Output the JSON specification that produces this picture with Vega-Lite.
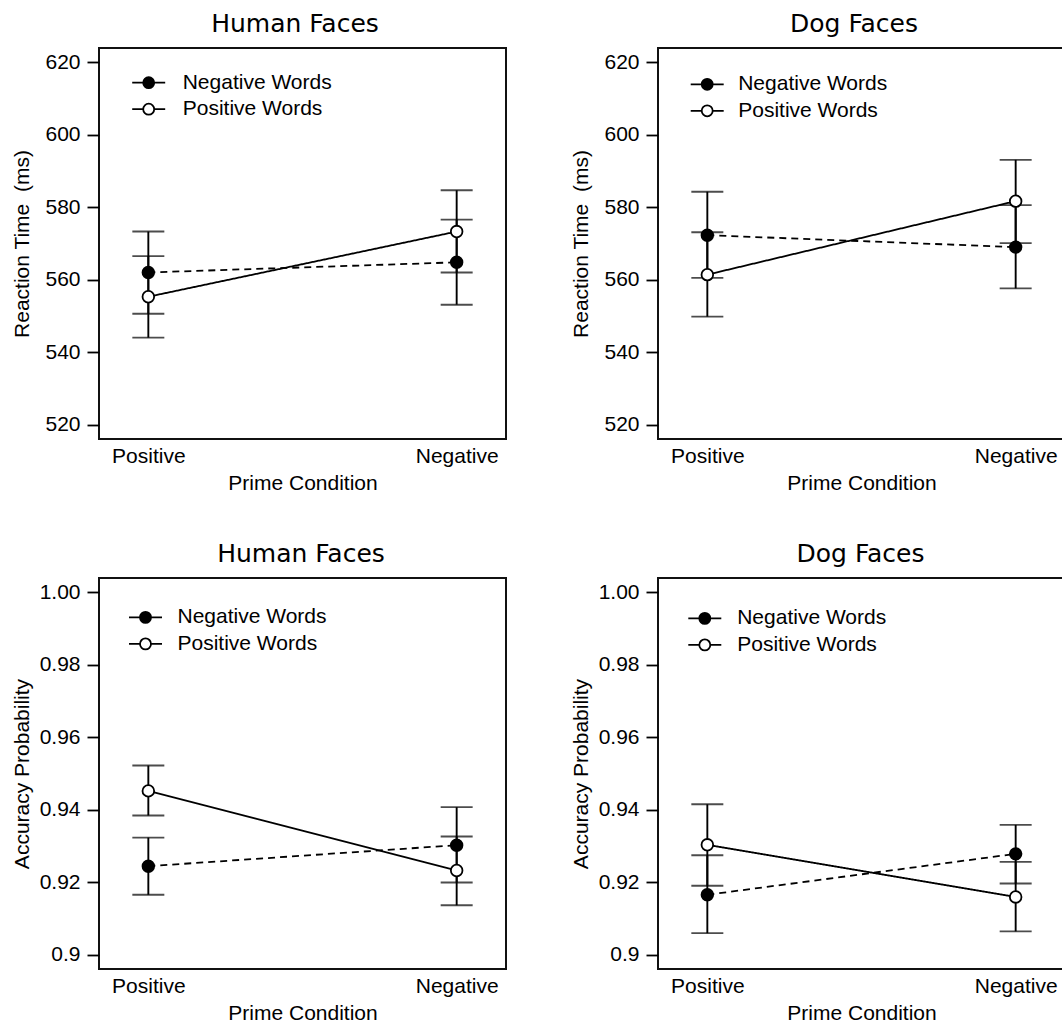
{
  "$schema": "https://vega.github.io/schema/vega-lite/v6.json",
  "padding": {"left": 10, "top": 10, "right": 0, "bottom": 0},
  "background": "white",
  "config": {
    "font": "Liberation Sans",
    "view": {"stroke": "#111111", "strokeWidth": 2},
    "title": {"font": "DejaVu Sans", "fontSize": 25, "fontWeight": "normal", "color": "black", "baseline": "alphabetic", "offset": 11.5, "frame": "group", "anchor": "middle"},
    "axis": {"labelFont": "Liberation Sans", "labelFontSize": 21, "labelColor": "black", "titleFont": "Liberation Sans", "titleFontSize": 21, "titleFontWeight": "normal", "titleColor": "black", "grid": false, "domain": false, "tickColor": "black", "tickWidth": 1.8},
    "axisY": {"tickSize": 12, "labelPadding": 7, "titleX": -71, "titleY": 195.5, "titleBaseline": "alphabetic", "titleAngle": 270},
    "axisX": {"ticks": false, "tickSize": 0, "labelPadding": 6, "titlePadding": 6, "labelAngle": 0},
    "legend": {"labelFont": "Liberation Sans", "labelFontSize": 21, "labelColor": "black", "padding": 0, "rowPadding": 4.5, "symbolSize": 484, "symbolStrokeColor": "black", "symbolStrokeWidth": 1.8, "labelLimit": 400}
  },
  "datasets": {
    "rt": [
      {"face": "Human Faces", "prime": "Positive", "series": "Negative Words", "mean": 562.0, "lo": 550.6, "hi": 573.3},
      {"face": "Human Faces", "prime": "Positive", "series": "Positive Words", "mean": 555.3, "lo": 544.0, "hi": 566.5},
      {"face": "Human Faces", "prime": "Negative", "series": "Negative Words", "mean": 564.8, "lo": 553.1, "hi": 576.6},
      {"face": "Human Faces", "prime": "Negative", "series": "Positive Words", "mean": 573.3, "lo": 562.0, "hi": 584.7},
      {"face": "Dog Faces", "prime": "Positive", "series": "Negative Words", "mean": 572.3, "lo": 560.5, "hi": 584.3},
      {"face": "Dog Faces", "prime": "Positive", "series": "Positive Words", "mean": 561.4, "lo": 549.8, "hi": 573.1},
      {"face": "Dog Faces", "prime": "Negative", "series": "Negative Words", "mean": 569.0, "lo": 557.6, "hi": 580.6},
      {"face": "Dog Faces", "prime": "Negative", "series": "Positive Words", "mean": 581.7, "lo": 570.1, "hi": 593.1}
    ],
    "acc": [
      {"face": "Human Faces", "prime": "Positive", "series": "Negative Words", "mean": 0.9244, "lo": 0.9165, "hi": 0.9323},
      {"face": "Human Faces", "prime": "Positive", "series": "Positive Words", "mean": 0.9452, "lo": 0.9384, "hi": 0.9522},
      {"face": "Human Faces", "prime": "Negative", "series": "Negative Words", "mean": 0.9302, "lo": 0.9199, "hi": 0.9407},
      {"face": "Human Faces", "prime": "Negative", "series": "Positive Words", "mean": 0.9232, "lo": 0.9136, "hi": 0.9326},
      {"face": "Dog Faces", "prime": "Positive", "series": "Negative Words", "mean": 0.9165, "lo": 0.9059, "hi": 0.9274},
      {"face": "Dog Faces", "prime": "Positive", "series": "Positive Words", "mean": 0.9303, "lo": 0.9190, "hi": 0.9415},
      {"face": "Dog Faces", "prime": "Negative", "series": "Negative Words", "mean": 0.9278, "lo": 0.9196, "hi": 0.9358},
      {"face": "Dog Faces", "prime": "Negative", "series": "Positive Words", "mean": 0.9159, "lo": 0.9064, "hi": 0.9256}
    ]
  },
  "columns": 2,
  "spacing": {"row": 139, "column": 152},
  "bounds": "flush",
  "resolve": {
    "scale": {"x": "independent", "y": "independent", "fill": "independent"},
    "axis": {"x": "independent", "y": "independent"},
    "legend": {"fill": "independent"}
  },
  "concat": [
    {
      "width": 407, "height": 391,
      "title": {"text": "Human Faces", "dx": -7.5},
      "data": {"name": "rt"},
      "transform": [{"filter": {"field": "face", "equal": "Human Faces"}}],
      "encoding": {
        "x": {"field": "prime", "type": "nominal", "scale": {"type": "point", "domain": ["Positive", "Negative"], "padding": 0.16}, "axis": {"title": "Prime Condition"}}
      },
      "layer": [
        {"mark": {"type": "rule", "color": "black", "strokeWidth": 1.9},
         "encoding": {"y": {"field": "lo", "type": "quantitative", "title": "Reaction Time\u00a0 (ms)", "scale": {"domain": [516, 624], "nice": false, "zero": false}, "axis": {"values": [520, 540, 560, 580, 600, 620]}}, "y2": {"field": "hi"}}},
        {"mark": {"type": "tick", "orient": "horizontal", "color": "black", "size": 32, "thickness": 1.9},
         "encoding": {"y": {"field": "lo", "type": "quantitative", "title": "Reaction Time\u00a0 (ms)"}}},
        {"mark": {"type": "tick", "orient": "horizontal", "color": "black", "size": 32, "thickness": 1.9},
         "encoding": {"y": {"field": "hi", "type": "quantitative", "title": "Reaction Time\u00a0 (ms)"}}},
        {"mark": {"type": "line", "color": "black", "strokeWidth": 1.8},
         "encoding": {"y": {"field": "mean", "type": "quantitative", "title": "Reaction Time\u00a0 (ms)"}, "detail": {"field": "series"}, "strokeDash": {"condition": {"test": "datum.series === 'Negative Words'", "value": [7, 5]}, "value": [1, 0]}}},
        {"mark": {"type": "point", "shape": "circle", "filled": true, "size": 135, "stroke": "black", "strokeWidth": 1.8, "opacity": 1},
         "encoding": {"y": {"field": "mean", "type": "quantitative", "title": "Reaction Time\u00a0 (ms)"},
           "fill": {"field": "series", "type": "nominal", "scale": {"domain": ["Negative Words", "Positive Words"], "range": ["black", "white"]},
             "legend": {"title": null, "orient": "none", "legendX": 37.7, "legendY": 22.7, "labelOffset": 22, "symbolType": "M-1.5,0H-0.5M0.5,0H1.5M0.5,0A0.5,0.5,0,1,1,-0.5,0A0.5,0.5,0,1,1,0.5,0Z",
               "encode": {"symbols": {"update": {"stroke": {"value": "black"}, "strokeWidth": {"value": 1.8}, "opacity": {"value": 1}, "strokeDash": {"signal": "datum.value === 'Negative Words' ? [6, 6] : [1, 0]"}}}}}}}}
      ]
    },
    {
      "width": 407, "height": 391,
      "title": {"text": "Dog Faces", "dx": -7.5},
      "data": {"name": "rt"},
      "transform": [{"filter": {"field": "face", "equal": "Dog Faces"}}],
      "encoding": {
        "x": {"field": "prime", "type": "nominal", "scale": {"type": "point", "domain": ["Positive", "Negative"], "padding": 0.16}, "axis": {"title": "Prime Condition"}}
      },
      "layer": [
        {"mark": {"type": "rule", "color": "black", "strokeWidth": 1.9},
         "encoding": {"y": {"field": "lo", "type": "quantitative", "title": "Reaction Time\u00a0 (ms)", "scale": {"domain": [516, 624], "nice": false, "zero": false}, "axis": {"values": [520, 540, 560, 580, 600, 620]}}, "y2": {"field": "hi"}}},
        {"mark": {"type": "tick", "orient": "horizontal", "color": "black", "size": 32, "thickness": 1.9},
         "encoding": {"y": {"field": "lo", "type": "quantitative", "title": "Reaction Time\u00a0 (ms)"}}},
        {"mark": {"type": "tick", "orient": "horizontal", "color": "black", "size": 32, "thickness": 1.9},
         "encoding": {"y": {"field": "hi", "type": "quantitative", "title": "Reaction Time\u00a0 (ms)"}}},
        {"mark": {"type": "line", "color": "black", "strokeWidth": 1.8},
         "encoding": {"y": {"field": "mean", "type": "quantitative", "title": "Reaction Time\u00a0 (ms)"}, "detail": {"field": "series"}, "strokeDash": {"condition": {"test": "datum.series === 'Negative Words'", "value": [7, 5]}, "value": [1, 0]}}},
        {"mark": {"type": "point", "shape": "circle", "filled": true, "size": 135, "stroke": "black", "strokeWidth": 1.8, "opacity": 1},
         "encoding": {"y": {"field": "mean", "type": "quantitative", "title": "Reaction Time\u00a0 (ms)"},
           "fill": {"field": "series", "type": "nominal", "scale": {"domain": ["Negative Words", "Positive Words"], "range": ["black", "white"]},
             "legend": {"title": null, "orient": "none", "legendX": 37.2, "legendY": 24.3, "labelOffset": 19, "symbolType": "M-1.5,0H-0.5M0.5,0H1.5M0.5,0A0.5,0.5,0,1,1,-0.5,0A0.5,0.5,0,1,1,0.5,0Z",
               "encode": {"symbols": {"update": {"stroke": {"value": "black"}, "strokeWidth": {"value": 1.8}, "opacity": {"value": 1}, "strokeDash": {"signal": "datum.value === 'Negative Words' ? [6, 6] : [1, 0]"}}}}}}}}
      ]
    },
    {
      "width": 407, "height": 391,
      "title": {"text": "Human Faces", "dx": -1.5},
      "data": {"name": "acc"},
      "transform": [{"filter": {"field": "face", "equal": "Human Faces"}}],
      "encoding": {
        "x": {"field": "prime", "type": "nominal", "scale": {"type": "point", "domain": ["Positive", "Negative"], "padding": 0.16}, "axis": {"title": "Prime Condition"}}
      },
      "layer": [
        {"mark": {"type": "rule", "color": "black", "strokeWidth": 1.9},
         "encoding": {"y": {"field": "lo", "type": "quantitative", "title": "Accuracy Probability", "scale": {"domain": [0.896, 1.004], "nice": false, "zero": false}, "axis": {"values": [0.9, 0.92, 0.94, 0.96, 0.98, 1.0], "labelExpr": "datum.value < 0.91 ? '0.9' : format(datum.value, '.2f')"}}, "y2": {"field": "hi"}}},
        {"mark": {"type": "tick", "orient": "horizontal", "color": "black", "size": 32, "thickness": 1.9},
         "encoding": {"y": {"field": "lo", "type": "quantitative", "title": "Accuracy Probability"}}},
        {"mark": {"type": "tick", "orient": "horizontal", "color": "black", "size": 32, "thickness": 1.9},
         "encoding": {"y": {"field": "hi", "type": "quantitative", "title": "Accuracy Probability"}}},
        {"mark": {"type": "line", "color": "black", "strokeWidth": 1.8},
         "encoding": {"y": {"field": "mean", "type": "quantitative", "title": "Accuracy Probability"}, "detail": {"field": "series"}, "strokeDash": {"condition": {"test": "datum.series === 'Negative Words'", "value": [7, 5]}, "value": [1, 0]}}},
        {"mark": {"type": "point", "shape": "circle", "filled": true, "size": 135, "stroke": "black", "strokeWidth": 1.8, "opacity": 1},
         "encoding": {"y": {"field": "mean", "type": "quantitative", "title": "Accuracy Probability"},
           "fill": {"field": "series", "type": "nominal", "scale": {"domain": ["Negative Words", "Positive Words"], "range": ["black", "white"]},
             "legend": {"title": null, "orient": "none", "legendX": 34.5, "legendY": 27.4, "labelOffset": 20, "symbolType": "M-1.5,0H-0.5M0.5,0H1.5M0.5,0A0.5,0.5,0,1,1,-0.5,0A0.5,0.5,0,1,1,0.5,0Z",
               "encode": {"symbols": {"update": {"stroke": {"value": "black"}, "strokeWidth": {"value": 1.8}, "opacity": {"value": 1}, "strokeDash": {"signal": "datum.value === 'Negative Words' ? [6, 6] : [1, 0]"}}}}}}}}
      ]
    },
    {
      "width": 407, "height": 391,
      "title": {"text": "Dog Faces", "dx": -1},
      "data": {"name": "acc"},
      "transform": [{"filter": {"field": "face", "equal": "Dog Faces"}}],
      "encoding": {
        "x": {"field": "prime", "type": "nominal", "scale": {"type": "point", "domain": ["Positive", "Negative"], "padding": 0.16}, "axis": {"title": "Prime Condition"}}
      },
      "layer": [
        {"mark": {"type": "rule", "color": "black", "strokeWidth": 1.9},
         "encoding": {"y": {"field": "lo", "type": "quantitative", "title": "Accuracy Probability", "scale": {"domain": [0.896, 1.004], "nice": false, "zero": false}, "axis": {"values": [0.9, 0.92, 0.94, 0.96, 0.98, 1.0], "labelExpr": "datum.value < 0.91 ? '0.9' : format(datum.value, '.2f')"}}, "y2": {"field": "hi"}}},
        {"mark": {"type": "tick", "orient": "horizontal", "color": "black", "size": 32, "thickness": 1.9},
         "encoding": {"y": {"field": "lo", "type": "quantitative", "title": "Accuracy Probability"}}},
        {"mark": {"type": "tick", "orient": "horizontal", "color": "black", "size": 32, "thickness": 1.9},
         "encoding": {"y": {"field": "hi", "type": "quantitative", "title": "Accuracy Probability"}}},
        {"mark": {"type": "line", "color": "black", "strokeWidth": 1.8},
         "encoding": {"y": {"field": "mean", "type": "quantitative", "title": "Accuracy Probability"}, "detail": {"field": "series"}, "strokeDash": {"condition": {"test": "datum.series === 'Negative Words'", "value": [7, 5]}, "value": [1, 0]}}},
        {"mark": {"type": "point", "shape": "circle", "filled": true, "size": 135, "stroke": "black", "strokeWidth": 1.8, "opacity": 1},
         "encoding": {"y": {"field": "mean", "type": "quantitative", "title": "Accuracy Probability"},
           "fill": {"field": "series", "type": "nominal", "scale": {"domain": ["Negative Words", "Positive Words"], "range": ["black", "white"]},
             "legend": {"title": null, "orient": "none", "legendX": 34.8, "legendY": 28.4, "labelOffset": 20.4, "symbolType": "M-1.5,0H-0.5M0.5,0H1.5M0.5,0A0.5,0.5,0,1,1,-0.5,0A0.5,0.5,0,1,1,0.5,0Z",
               "encode": {"symbols": {"update": {"stroke": {"value": "black"}, "strokeWidth": {"value": 1.8}, "opacity": {"value": 1}, "strokeDash": {"signal": "datum.value === 'Negative Words' ? [6, 6] : [1, 0]"}}}}}}}}
      ]
    }
  ]
}
